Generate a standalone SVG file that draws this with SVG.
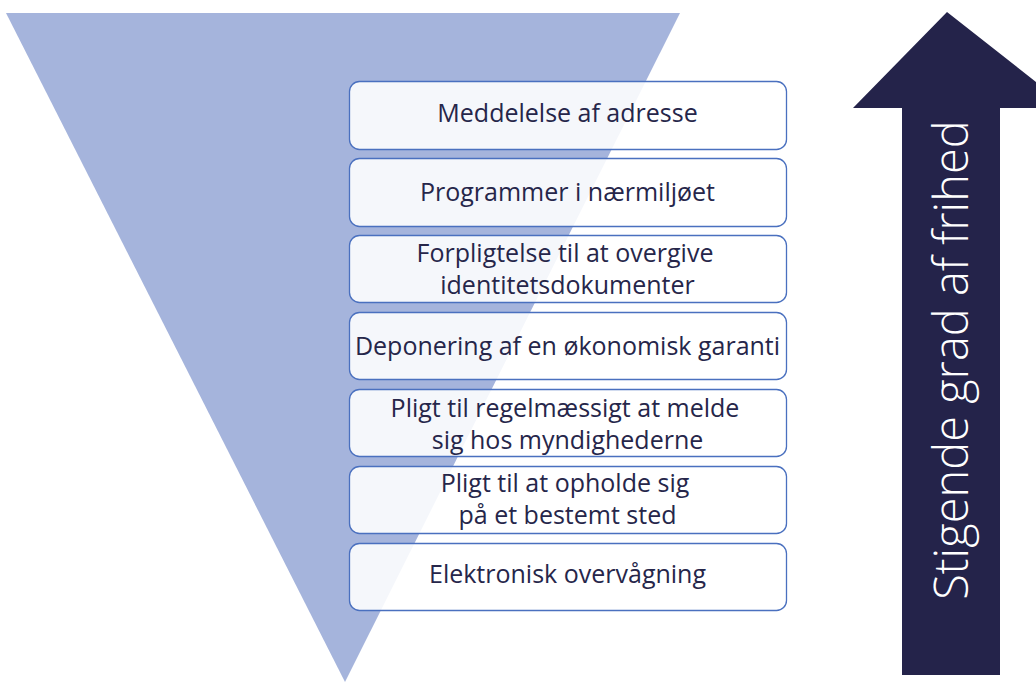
<svg xmlns="http://www.w3.org/2000/svg" width="1036" height="682" viewBox="0 0 1036 682">
<style>
.box{fill:#ffffff;fill-opacity:0.885;stroke:#4a70bf;stroke-width:1.3}
.t{font-family:"Open Sans","Liberation Sans",sans-serif;font-size:25px;fill:#26264a;text-anchor:middle}
.at{font-family:"Open Sans","Liberation Sans",sans-serif;font-weight:300;font-size:47px;fill:#ffffff;text-anchor:middle}
</style>
<rect width="1036" height="682" fill="#ffffff"/>
<g id="funnel"><polygon points="6,13 680,13 345,682" fill="#a5b4dc"/></g>
<g id="arrow">
<polygon points="947,12 1036,82 1036,108 1000,108 1000,675 902,675 902,108 853,108" fill="#24234a"/>
<text class="at" transform="translate(968,360) rotate(-90)">Stigende grad af frihed</text>
</g>
<g id="n1"><rect class="box" x="349.5" y="81.5" width="437" height="68" rx="10"/><text class="t" x="567.5" y="122">Meddelelse af adresse</text></g>
<g id="n2"><rect class="box" x="349.5" y="158.5" width="437" height="68" rx="10"/><text class="t" x="567.5" y="201">Programmer i nærmiljøet</text></g>
<g id="n3"><rect class="box" x="349.5" y="235.5" width="437" height="67" rx="10"/><text class="t" x="565" y="262">Forpligtelse til at overgive</text><text class="t" x="567.5" y="294">identitetsdokumenter</text></g>
<g id="n4"><rect class="box" x="349.5" y="312.5" width="437" height="67" rx="10"/><text class="t" x="567.5" y="355">Deponering af en økonomisk garanti</text></g>
<g id="n5"><rect class="box" x="349.5" y="389.5" width="437" height="67" rx="10"/><text class="t" x="565" y="417">Pligt til regelmæssigt at melde</text><text class="t" x="567.5" y="449">sig hos myndighederne</text></g>
<g id="n6"><rect class="box" x="349.5" y="466.5" width="437" height="67" rx="10"/><text class="t" x="565" y="492">Pligt til at opholde sig</text><text class="t" x="567.5" y="524">på et bestemt sted</text></g>
<g id="n7"><rect class="box" x="349.5" y="543.5" width="437" height="67" rx="10"/><text class="t" x="567.5" y="583">Elektronisk overvågning</text></g>
<g id="connectors"></g>
</svg>
